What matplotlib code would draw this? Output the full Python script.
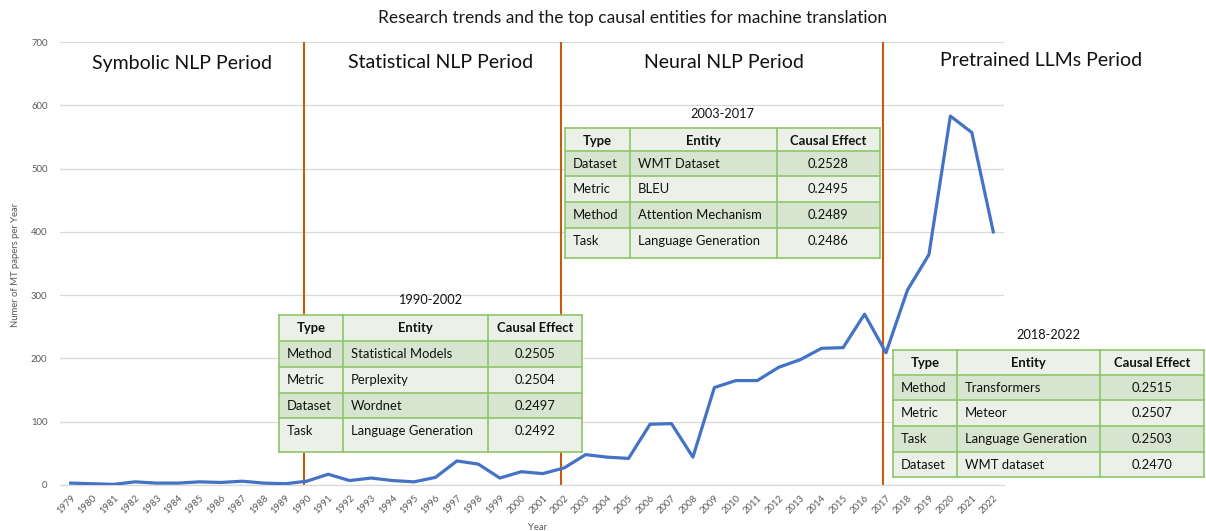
import matplotlib
matplotlib.use("Agg")
import matplotlib.pyplot as plt
from matplotlib.patches import Rectangle

plt.rcParams['font.family'] = ['Lato', 'DejaVu Sans']

# ---------------- data ----------------
years = [str(y) for y in range(1979, 2023)]
papers = [3, 2, 1, 5, 3, 3, 5, 4, 6, 3, 2, 6,
          17, 7, 11, 7, 5, 12, 38, 33, 11, 21, 18, 27,
          48, 44, 42, 96, 97, 44, 154, 165, 165, 186, 198, 216, 217, 270,
          209, 308, 364, 583, 557, 400]
period_bounds = ['1990', '2002', '2017']
period_names = ['Symbolic NLP Period', 'Statistical NLP Period',
                'Neural NLP Period', 'Pretrained LLMs Period']
y_ticks = [0, 100, 200, 300, 400, 500, 600, 700]

table_header = ['Type', 'Entity', 'Causal Effect']
t1_title = '1990-2002'
t1_types = ['Method', 'Metric', 'Dataset', 'Task']
t1_entities = ['Statistical Models', 'Perplexity', 'Wordnet', 'Language Generation']
t1_effects = ['0.2505', '0.2504', '0.2497', '0.2492']
t2_title = '2003-2017'
t2_types = ['Dataset', 'Metric', 'Method', 'Task']
t2_entities = ['WMT Dataset', 'BLEU', 'Attention Mechanism', 'Language Generation']
t2_effects = ['0.2528', '0.2495', '0.2489', '0.2486']
t3_title = '2018-2022'
t3_types = ['Method', 'Metric', 'Task', 'Dataset']
t3_entities = ['Transformers', 'Meteor', 'Language Generation', 'WMT dataset']
t3_effects = ['0.2515', '0.2507', '0.2503', '0.2470']

# ---------------- figure ----------------
W, H = 1206, 531
fig = plt.figure(figsize=(W / 100, H / 100), dpi=100)
fig.patch.set_facecolor('white')

L, R, T, B = 60, 1004, 42, 485
ax = fig.add_axes([L / W, 1 - B / H, (R - L) / W, (B - T) / H])
ax.set_facecolor('none')
x = list(range(len(years)))
ax.plot(x, papers, color='#4472C4', lw=2.3, solid_joinstyle='round', zorder=3)
ax.set_xlim(-0.5, len(years) - 0.5)
ax.set_ylim(0, 700)
ax.set_yticks(y_ticks)
ax.set_yticklabels([str(v) for v in y_ticks], fontsize=6.8, color='#595959')
ax.set_xticks(x)
ax.set_xticklabels(years, rotation=45, ha='right', rotation_mode='anchor',
                   fontsize=6.8, color='#595959')
ax.tick_params(axis='both', length=0, pad=6)
ax.tick_params(axis='y', pad=9)
ax.grid(axis='y', color='#d9d9d9', lw=0.9, zorder=0)
for s in ['top', 'right', 'left']:
    ax.spines[s].set_visible(False)
ax.spines['bottom'].set_color('#d9d9d9')
ax.spines['bottom'].set_linewidth(0.9)
ax.set_axisbelow(True)

for yb in period_bounds:
    ax.vlines(years.index(yb) - 0.14, 0, 700, color='#C55A11', lw=1.5, zorder=2)

fig.text(16 / W, 1 - 265 / H, 'Numer of MT papers per Year', rotation=90,
         ha='center', va='center', fontsize=6.8, color='#595959')
fig.text(537 / W, 1 - 527 / H, 'Year', ha='center', va='center',
         fontsize=6.8, color='#595959')

# overlay in pixel space
ov = fig.add_axes([0, 0, 1, 1])
ov.set_xlim(0, W)
ov.set_ylim(H, 0)
ov.axis('off')
ov.set_facecolor('none')

ov.text(633, 18, 'Research trends and the top causal entities for machine translation',
        ha='center', va='center', fontsize=12.5, color='#1a1a1a')

label_pos = [(182, 63), (441, 63), (724, 63), (1041, 60)]
for name, (px, py) in zip(period_names, label_pos):
    ov.text(px, py, name, ha='center', va='center', fontsize=14, color='#111111')

LIGHT = '#EBF1E8'
DARK = '#D7E4D0'
EDGE = '#8DC66A'
FS = 9.4


def draw_table(title, types, ents, effs, col_edges, row_edges, title_y):
    x0, x1 = col_edges[0], col_edges[-1]
    ov.text((x0 + x1) / 2, title_y, title, ha='center', va='center',
            fontsize=9.2, color='#111111')
    rows = [table_header] + [[a, b, c] for a, b, c in zip(types, ents, effs)]
    for i, row in enumerate(rows):
        y0, y1 = row_edges[i], row_edges[i + 1]
        fc = DARK if i % 2 == 1 else LIGHT
        ov.add_patch(Rectangle((x0, y0), x1 - x0, y1 - y0, facecolor=fc,
                               edgecolor='none', zorder=4))
        ty = y0 + 13
        for j, txt in enumerate(row):
            cx0, cx1 = col_edges[j], col_edges[j + 1]
            if i == 0:
                ov.text((cx0 + cx1) / 2, ty, txt, ha='center', va='center',
                        fontsize=FS, fontweight='bold', color='#111111', zorder=6)
            elif j < 2:
                ov.text(cx0 + 8, ty, txt, ha='left', va='center',
                        fontsize=FS, color='#111111', zorder=6)
            else:
                ov.text((cx0 + cx1) / 2, ty, txt, ha='center', va='center',
                        fontsize=FS, color='#111111', zorder=6)
    for yy in row_edges:
        ov.plot([x0, x1], [yy, yy], color=EDGE, lw=1.2, zorder=5)
    for xx in col_edges:
        ov.plot([xx, xx], [row_edges[0], row_edges[-1]], color=EDGE, lw=1.2, zorder=5)


draw_table(t1_title, t1_types, t1_entities, t1_effects,
           [279, 343, 488, 582], [315, 341, 367, 393, 418, 452], 300)
draw_table(t2_title, t2_types, t2_entities, t2_effects,
           [565, 630, 777, 880], [128, 151, 176, 202, 228, 258], 114)
draw_table(t3_title, t3_types, t3_entities, t3_effects,
           [893, 957, 1100, 1204], [350, 375, 400, 426, 452, 477], 335)

fig.savefig('out.png', dpi=100, facecolor='white')
